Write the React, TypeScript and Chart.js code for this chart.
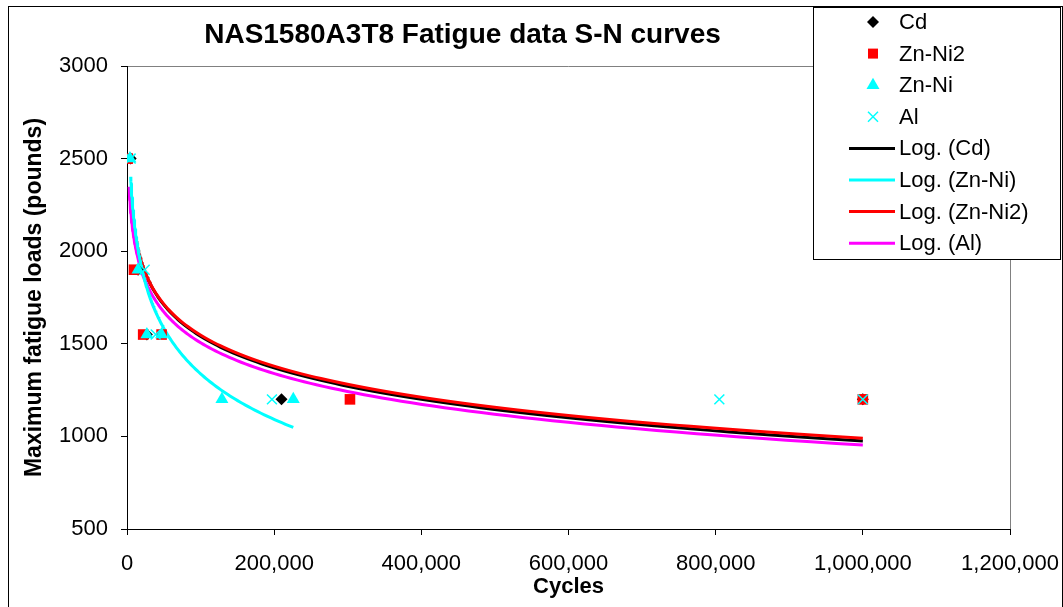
import React, { useEffect, useRef } from 'react';
import { Chart, registerables } from 'chart.js';

Chart.register(...registerables);

// ---- Data ----
const cdX = [5000, 15000, 27000, 210000, 1000000];
const cdY = [2500, 1900, 1550, 1200, 1200];

const znNi2X = [1000, 9500, 22000, 47000, 303000, 1000000];
const znNi2Y = [2500, 1900, 1550, 1550, 1200, 1200];

const znNiX = [4000, 15000, 27000, 47000, 129000, 226000];
const znNiY = [2500, 1900, 1550, 1550, 1200, 1200];

const alX = [5000, 24000, 39000, 197000, 805000, 1000000];
const alY = [2500, 1900, 1550, 1200, 1200, 1200];

// Logarithmic trendlines y = a - b * ln(x), drawn over [from, to]
const trendCd = { a: 4367, b: 245.5, from: 5000, to: 1000000 };
const trendZnNi = { a: 5425, b: 355, from: 5000, to: 226000 };
const trendZnNi2 = { a: 4333, b: 242, from: 5000, to: 1000000 };
const trendAl = { a: 4269, b: 240, from: 3000, to: 1000000 };

const xTicks = [0, 200000, 400000, 600000, 800000, 1000000, 1200000];
const yTicks = [500, 1000, 1500, 2000, 2500, 3000];

const titleText = 'NAS1580A3T8 Fatigue data S-N curves';
const xTitle = 'Cycles';
const yTitle = 'Maximum fatigue loads (pounds)';

const FONT = '"Liberation Sans", Arial, sans-serif';

function pts(xs: number[], ys: number[]) {
  return xs.map((x, i) => ({ x, y: ys[i] }));
}

function trend(t: { a: number; b: number; from: number; to: number }) {
  const n = 160;
  const out: { x: number; y: number }[] = [];
  for (let i = 0; i < n; i++) {
    const x = t.from * Math.pow(t.to / t.from, i / (n - 1));
    out.push({ x, y: t.a - t.b * Math.log(x) });
  }
  return out;
}

type LegendItem = { label: string; kind: 'marker' | 'line'; style?: string; color: string };
const legendItems: LegendItem[] = [
  { label: 'Cd', kind: 'marker', style: 'diamond', color: '#000000' },
  { label: 'Zn-Ni2', kind: 'marker', style: 'square', color: '#FF0000' },
  { label: 'Zn-Ni', kind: 'marker', style: 'triangle', color: '#00FFFF' },
  { label: 'Al', kind: 'marker', style: 'cross', color: '#00FFFF' },
  { label: 'Log. (Cd)', kind: 'line', color: '#000000' },
  { label: 'Log. (Zn-Ni)', kind: 'line', color: '#00FFFF' },
  { label: 'Log. (Zn-Ni2)', kind: 'line', color: '#FF0000' },
  { label: 'Log. (Al)', kind: 'line', color: '#FF00FF' },
];

function drawMarker(ctx: CanvasRenderingContext2D, style: string, x: number, y: number, color: string) {
  ctx.save();
  ctx.fillStyle = color;
  ctx.strokeStyle = color;
  ctx.beginPath();
  if (style === 'diamond') {
    const r = 6;
    ctx.moveTo(x, y - r);
    ctx.lineTo(x + r, y);
    ctx.lineTo(x, y + r);
    ctx.lineTo(x - r, y);
    ctx.closePath();
    ctx.fill();
  } else if (style === 'square') {
    ctx.rect(x - 5, y - 5, 10, 10);
    ctx.fill();
  } else if (style === 'triangle') {
    const r = 7.5;
    ctx.moveTo(x, y - r);
    ctx.lineTo(x + r * 0.866, y + r * 0.5);
    ctx.lineTo(x - r * 0.866, y + r * 0.5);
    ctx.closePath();
    ctx.fill();
  } else {
    const s = 5;
    ctx.lineWidth = 1.5;
    ctx.moveTo(x - s, y - s);
    ctx.lineTo(x + s, y + s);
    ctx.moveTo(x + s, y - s);
    ctx.lineTo(x - s, y + s);
    ctx.stroke();
  }
  ctx.restore();
}

const decorPlugin = {
  id: 'decor',
  beforeDraw(chart: any) {
    const ctx = chart.ctx as CanvasRenderingContext2D;
    const { left, right, top, bottom } = chart.chartArea;
    ctx.save();
    ctx.fillStyle = '#ffffff';
    ctx.fillRect(0, 0, chart.width, chart.height);
    // outer chart border
    ctx.strokeStyle = '#000000';
    ctx.lineWidth = 1;
    ctx.strokeRect(8.5, 6.5, chart.width - 9, chart.height + 20);
    // plot area border (gray top & right)
    ctx.strokeStyle = '#808080';
    ctx.beginPath();
    ctx.moveTo(left, Math.round(top) + 0.5);
    ctx.lineTo(Math.round(right) + 0.5, Math.round(top) + 0.5);
    ctx.lineTo(Math.round(right) + 0.5, bottom);
    ctx.stroke();
    ctx.restore();
  },
  afterDraw(chart: any) {
    const ctx = chart.ctx as CanvasRenderingContext2D;
    ctx.save();
    // title
    ctx.fillStyle = '#000000';
    ctx.font = `bold 28px ${FONT}`;
    ctx.textAlign = 'center';
    ctx.textBaseline = 'alphabetic';
    ctx.fillText(titleText, 462.5, 43);

    // legend box
    const bx = 813.5, by = 7.5, bw = 247, bh = 252;
    ctx.fillStyle = '#ffffff';
    ctx.fillRect(bx, by, bw, bh);
    ctx.strokeStyle = '#000000';
    ctx.lineWidth = 1;
    ctx.strokeRect(bx, by, bw, bh);
    ctx.font = `22px ${FONT}`;
    ctx.textAlign = 'left';
    ctx.textBaseline = 'middle';
    legendItems.forEach((it, i) => {
      const y = 22 + i * 31.6;
      if (it.kind === 'marker') {
        drawMarker(ctx, it.style || 'square', 873, y, it.color);
      } else {
        ctx.strokeStyle = it.color;
        ctx.lineWidth = 3;
        ctx.beginPath();
        ctx.moveTo(849, y);
        ctx.lineTo(895, y);
        ctx.stroke();
      }
      ctx.fillStyle = '#000000';
      ctx.fillText(it.label, 899, y + 1);
    });
    ctx.restore();
  },
};

export default function App() {
  const ref = useRef<HTMLCanvasElement | null>(null);

  useEffect(() => {
    if (!ref.current) return;
    Chart.defaults.font.family = FONT;
    Chart.defaults.color = '#000000';

    const lineDs = (label: string, data: any, color: string, order: number) => ({
      label,
      data,
      showLine: true,
      borderColor: color,
      backgroundColor: color,
      borderWidth: 3,
      pointRadius: 0,
      tension: 0,
      order,
    });

    const chart = new Chart(ref.current, {
      type: 'scatter',
      data: {
        datasets: [
          {
            label: 'Al',
            data: pts(alX, alY),
            pointStyle: 'crossRot',
            pointRadius: 7,
            borderColor: '#00FFFF',
            backgroundColor: '#00FFFF',
            pointBorderWidth: 1.5,
            order: 0,
          },
          {
            label: 'Zn-Ni',
            data: pts(znNiX, znNiY),
            pointStyle: 'triangle',
            pointRadius: 7.5,
            borderColor: '#00FFFF',
            backgroundColor: '#00FFFF',
            pointBorderWidth: 0,
            order: 1,
          },
          {
            label: 'Zn-Ni2',
            data: pts(znNi2X, znNi2Y),
            pointStyle: 'rect',
            pointRadius: 7.5,
            borderColor: '#FF0000',
            backgroundColor: '#FF0000',
            pointBorderWidth: 0,
            order: 2,
          },
          {
            label: 'Cd',
            data: pts(cdX, cdY),
            pointStyle: 'rectRot',
            pointRadius: 6,
            borderColor: '#000000',
            backgroundColor: '#000000',
            pointBorderWidth: 0,
            order: 3,
          },
          lineDs('Log. (Zn-Ni)', trend(trendZnNi), '#00FFFF', 4),
          lineDs('Log. (Al)', trend(trendAl), '#FF00FF', 5),
          lineDs('Log. (Zn-Ni2)', trend(trendZnNi2), '#FF0000', 6),
          lineDs('Log. (Cd)', trend(trendCd), '#000000', 7),
        ] as any,
      },
      options: {
        animation: false,
        responsive: false,
        maintainAspectRatio: false,
        layout: { padding: { left: 0, top: 66, right: 53, bottom: 0 } },
        plugins: {
          legend: { display: false },
          title: { display: false },
          tooltip: { enabled: false },
        },
        scales: {
          x: {
            type: 'linear',
            min: 0,
            max: 1200000,
            afterBuildTicks: (s: any) => {
              s.ticks = xTicks.map((v) => ({ value: v }));
            },
            afterFit: (s: any) => {
              s.height = 78;
              s.paddingLeft = 0;
              s.paddingRight = 0;
            },
            ticks: {
              autoSkip: false,
              maxRotation: 0,
              padding: 16,
              color: '#000000',
              font: { size: 22, family: FONT },
              callback: (v: any) => Number(v).toLocaleString('en-US'),
            },
            grid: { drawOnChartArea: false, drawTicks: true, tickLength: 6, color: '#000000' },
            border: { color: '#000000', width: 1 },
            title: {
              display: true,
              text: xTitle,
              color: '#000000',
              font: { size: 22, weight: 'bold', family: FONT },
              padding: { top: 0, bottom: 7 },
            },
          },
          y: {
            type: 'linear',
            min: 500,
            max: 3000,
            afterBuildTicks: (s: any) => {
              s.ticks = yTicks.map((v) => ({ value: v }));
            },
            afterFit: (s: any) => {
              s.width = 127;
              s.paddingTop = 0;
              s.paddingBottom = 0;
            },
            ticks: {
              padding: 13,
              color: '#000000',
              font: { size: 22, family: FONT },
              callback: (v: any) => String(v),
            },
            grid: { drawOnChartArea: false, drawTicks: true, tickLength: 6, color: '#000000' },
            border: { color: '#000000', width: 1 },
            title: {
              display: true,
              text: yTitle,
              color: '#000000',
              font: { size: 23, weight: 'bold', family: FONT },
              padding: { top: 21, bottom: 0 },
            },
          },
        },
      } as any,
      plugins: [decorPlugin],
    });
    return () => chart.destroy();
  }, []);

  return (
    <div style={{ position: 'absolute', left: 0, top: 0, width: 1063, height: 607 }}>
      <canvas ref={ref} width={1063} height={607} style={{ width: 1063, height: 607, display: 'block' }} />
    </div>
  );
}
